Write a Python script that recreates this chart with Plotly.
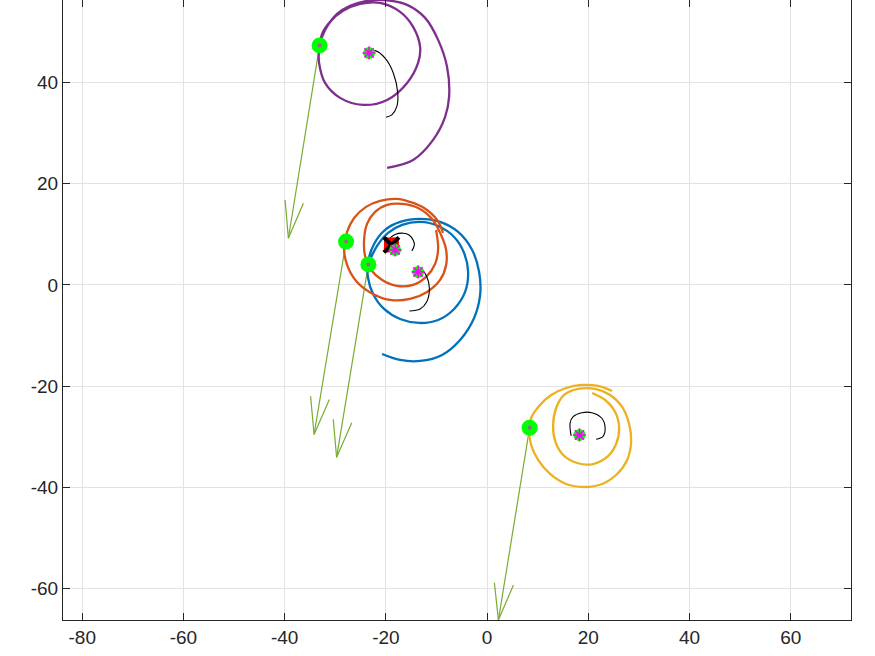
import plotly.graph_objects as go

# ---------------- data ----------------
blue_x = [-20.75, -17.19, -13.24, -8.89, -5.34, -2.57, -1.38, -1.58, -2.96, -5.73, -9.29, -13.24, -17.19, -20.16,
          -22.33, -23.52, -23.52, -22.53, -20.36, -17.19, -13.44, -9.68, -6.52, -4.35, -3.75, -4.55, -6.52, -9.68,
          -13.24, -16.80, -19.57, -21.74, -23.32]
blue_y = [-13.64, -14.82, -15.02, -13.83, -10.87, -6.52, -1.98, 2.57, 6.92, 10.47, 12.45, 13.04, 12.45, 10.87,
          8.10, 4.55, 1.38, -1.78, -4.74, -6.72, -7.51, -6.92, -4.74, -1.38, 2.57, 6.32, 9.49, 11.66,
          12.45, 11.86, 10.28, 7.71, 4.55]

orange_x = [-8.70, -9.88, -12.45, -15.22, -17.79, -21.15, -23.91, -26.28, -27.67, -28.26, -27.67, -25.89, -22.92,
            -19.17, -15.22, -11.86, -9.29, -8.10, -8.10, -9.09, -10.87, -13.64, -16.80, -19.76, -22.13, -23.72,
            -24.31, -24.11, -22.92, -20.75, -17.79, -14.62, -12.06, -10.28, -9.68, -10.08]
orange_y = [10.28, 12.85, 15.22, 16.40, 17.00, 16.60, 15.42, 13.24, 10.47, 7.31, 3.95, 0.79, -1.58,
            -2.96, -2.77, -1.38, 0.99, 3.95, 6.92, 9.88, 13.04, 15.22, 16.01, 15.81, 14.43, 12.06,
            8.89, 5.73, 2.96, 0.99, -0.20, 0.00, 1.58, 4.15, 7.11, 10.87]

yellow_x = [24.70, 21.94, 18.77, 15.61, 12.65, 10.28, 8.70, 8.30, 8.70, 10.08, 12.45, 15.61, 19.17, 22.73, 25.69,
            27.67, 28.46, 28.06, 26.68, 24.31, 21.34, 17.98, 15.22, 13.64, 13.04, 13.44, 15.02, 17.79, 20.95,
            23.72, 25.49, 26.09, 25.30, 23.32, 20.75]
yellow_y = [-20.95, -19.96, -19.76, -20.36, -21.74, -23.91, -26.28, -28.66, -31.62, -34.58, -37.35, -39.33, -39.92,
            -39.33, -37.35, -34.58, -31.03, -27.47, -24.11, -21.74, -20.55, -20.55, -21.74, -24.31, -27.67, -30.83,
            -33.60, -35.18, -35.38, -33.99, -31.42, -28.26, -25.10, -22.73, -21.34]

purple_x = [-19.76, -14.62, -10.67, -8.30, -7.51, -7.91, -9.68, -12.25, -15.81, -19.76, -23.72, -27.08, -29.64,
            -31.42, -32.61, -33.20, -33.20, -32.02, -29.05, -24.51, -19.76, -15.81, -13.64, -13.24, -14.62,
            -17.19, -21.15, -25.10, -28.46, -31.03, -32.61, -33.00]
purple_y = [23.12, 24.70, 28.66, 33.20, 37.15, 43.08, 48.42, 52.77, 55.34, 56.23, 56.13, 55.14, 53.56,
            51.38, 49.01, 46.44, 43.87, 39.92, 36.96, 35.57, 36.56, 39.92, 43.87, 47.04, 50.99,
            53.95, 55.73, 55.53, 54.15, 51.98, 49.60, 47.23]

# black short arcs
arc_purple_x = [-23.32, -22.13, -20.16, -18.52, -17.65, -17.85, -18.83, -19.96]
arc_purple_y = [45.85, 46.30, 44.80, 41.84, 37.89, 35.24, 33.60, 33.14]
arc_orange_x = [-19.17, -18.18, -16.54, -15.42, -14.62, -14.37, -14.88]
arc_orange_y = [9.29, 9.98, 10.22, 9.88, 8.89, 7.91, 6.72]
arc_blue_x = [-13.64, -13.24, -11.92, -11.40, -11.92, -13.24, -15.36]
arc_blue_y = [2.57, 3.36, 1.64, -0.65, -3.30, -4.74, -5.14]
arc_yellow_x = [16.60, 16.40, 17.00, 18.72, 20.69, 22.67, 23.32, 22.87, 21.54]
arc_yellow_y = [-29.84, -27.27, -26.03, -25.24, -25.24, -26.34, -28.32, -29.98, -30.49]

# current positions (big green markers) and targets (small green markers)
pos_x = [-23.46, -27.87, 8.40, -33.10]
pos_y = [4.05, 8.56, -28.22, 47.33]
tgt_x = [-13.64, -18.18, 18.25, -23.32]
tgt_y = [2.57, 6.92, -29.64, 45.85]

# arrows (tip and two barb ends)
tip_x = [-29.74, -34.19, 2.23, -39.27]
tip_y = [-34.05, -29.55, -66.21, 9.23]
barb1_x = [-30.40, -34.88, 1.44, -39.92]
barb1_y = [-26.54, -22.00, -58.83, 16.80]
barb2_x = [-26.74, -31.17, 5.20, -36.30]
barb2_y = [-27.21, -22.65, -59.29, 16.15]

# goal marker
goal_x = [-18.91]
goal_y = [7.91]

x_ticks = [-80, -60, -40, -20, 0, 20, 40, 60]
x_tick_labels = ["-80", "-60", "-40", "-20", "0", "20", "40", "60"]
y_ticks = [-60, -40, -20, 0, 20, 40]
y_tick_labels = ["-60", "-40", "-20", "0", "20", "40"]

colors = ["#0072BD", "#D95319", "#EDB120", "#7E2F8E"]
arrow_color = "#77AC30"

# ---------------- figure ----------------
fig = go.Figure()

# arrows
for i in range(4):
    ax = [pos_x[i], tip_x[i], None, barb1_x[i], tip_x[i], barb2_x[i]]
    ay = [pos_y[i], tip_y[i], None, barb1_y[i], tip_y[i], barb2_y[i]]
    fig.add_trace(go.Scatter(x=ax, y=ay, mode="lines",
                             line=dict(color=arrow_color, width=1.2), hoverinfo="skip"))

paths = [(blue_x, blue_y), (orange_x, orange_y), (yellow_x, yellow_y), (purple_x, purple_y)]
for (px, py), c in zip(paths, colors):
    fig.add_trace(go.Scatter(x=px, y=py, mode="lines",
                             line=dict(color=c, width=2.3, shape="spline", smoothing=1.0)))

arcs = [(arc_blue_x, arc_blue_y), (arc_orange_x, arc_orange_y),
        (arc_yellow_x, arc_yellow_y), (arc_purple_x, arc_purple_y)]
for ax, ay in arcs:
    fig.add_trace(go.Scatter(x=ax, y=ay, mode="lines",
                             line=dict(color="black", width=1.1, shape="spline", smoothing=1.0)))

# goal marker (red square with black x)
fig.add_trace(go.Scatter(x=goal_x, y=goal_y, mode="markers",
                         marker=dict(symbol="square", size=15, color="#FF0000",
                                     line=dict(width=0))))
fig.add_trace(go.Scatter(x=goal_x, y=goal_y, mode="markers",
                         marker=dict(symbol="x-thin-open", size=15, color="black",
                                     line=dict(width=4, color="black"))))

# big green markers
fig.add_trace(go.Scatter(x=pos_x, y=pos_y, mode="markers",
                         marker=dict(symbol="circle", size=16, color="#00FF00",
                                     line=dict(width=0))))
fig.add_trace(go.Scatter(x=pos_x, y=pos_y, mode="markers",
                         marker=dict(symbol="circle", size=4, color="#8c7280",
                                     line=dict(width=0))))

# small green markers with magenta asterisk
fig.add_trace(go.Scatter(x=tgt_x, y=tgt_y, mode="markers",
                         marker=dict(symbol="circle", size=12, color="#00FF00",
                                     line=dict(width=0))))
fig.add_trace(go.Scatter(x=tgt_x, y=tgt_y, mode="markers",
                         marker=dict(symbol="asterisk-open", size=11, color="#FF00FF",
                                     line=dict(width=1.5, color="#FF00FF"))))

axis_common = dict(
    showgrid=True, gridcolor="#e3e3e3", gridwidth=1,
    zeroline=False, showline=True, linecolor="#262626", linewidth=1,
    mirror="ticks", ticks="inside", ticklen=7, tickcolor="#262626", tickwidth=1,
    tickfont=dict(family="Liberation Sans, Arial, sans-serif", size=19, color="#262626"),
)

fig.update_layout(
    width=875, height=656,
    margin=dict(l=63, r=24, t=0, b=36),
    paper_bgcolor="white", plot_bgcolor="white",
    showlegend=False,
    xaxis=dict(range=[-83.8, 71.9], tickvals=x_ticks, ticktext=x_tick_labels, **axis_common),
    yaxis=dict(range=[-66.2, 56.3], tickvals=y_ticks, ticktext=y_tick_labels, **axis_common),
)

fig.write_html("out.html", config={"displayModeBar": False})
